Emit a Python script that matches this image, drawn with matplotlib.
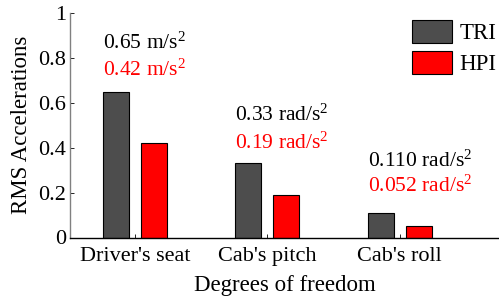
import matplotlib
matplotlib.use("Agg")
import matplotlib.pyplot as plt
import numpy as np

categories = ["Driver's seat", "Cab's pitch", "Cab's roll"]
tri = [0.65, 0.33, 0.11]
hpi = [0.42, 0.19, 0.052]
tri_labels = ["0.65 m/s$^2$", "0.33 rad/s$^2$", "0.110 rad/s$^2$"]
hpi_labels = ["0.42 m/s$^2$", "0.19 rad/s$^2$", "0.052 rad/s$^2$"]
series = ["TRI", "HPI"]

SERIF = 'Liberation Serif'
plt.rcParams['font.family'] = [SERIF, 'DejaVu Serif']
plt.rcParams['mathtext.fontset'] = 'custom'
plt.rcParams['mathtext.rm'] = SERIF
plt.rcParams['mathtext.it'] = SERIF + ':italic'

fig = plt.figure(figsize=(4.99, 2.98), dpi=100)
ax = fig.add_axes([70/499, 1-237.5/298, (499-70)/499, (237.5-13)/298])

x = np.arange(1, len(categories)+1)
w = 0.196
off = 0.143
ax.bar(x-off, tri, w, color='#4d4d4d', edgecolor='black', linewidth=0.8, label=series[0])
ax.bar(x+off, hpi, w, color='#ff0000', edgecolor='black', linewidth=0.8, label=series[1])

ax.set_xlim(0.51, 3.75)
ax.set_ylim(0, 1)
ax.set_yticks([0, 0.2, 0.4, 0.6, 0.8, 1])
ax.set_yticklabels(['0', '0.2', '0.4', '0.6', '0.8', '1'], family=SERIF)
ax.set_xticks(x)
ax.set_xticklabels(categories, family=SERIF)
ax.tick_params(axis='both', direction='in', labelsize=16, length=3, width=0.6, color='black')
ax.tick_params(axis='x', pad=7)
ax.tick_params(axis='y', pad=3)
for s in ['top', 'right']:
    ax.spines[s].set_visible(False)
ax.spines['left'].set_color('#808080')
ax.spines['left'].set_linewidth(1.0)
ax.spines['bottom'].set_color('black')
ax.spines['bottom'].set_linewidth(1.0)

ax.set_ylabel('RMS Accelerations', fontsize=16.5, labelpad=4, family=SERIF)
ax.set_xlabel('Degrees of freedom', fontsize=16.5, labelpad=6, family=SERIF)

tri_y = [0.866, 0.545, 0.34]
hpi_y = [0.746, 0.42, 0.23]
for i in range(len(categories)):
    ax.text(x[i]-off-w/2, tri_y[i], tri_labels[i], fontsize=15.5, color='black', va='center', ha='left', family=SERIF)
    ax.text(x[i]-off-w/2, hpi_y[i], hpi_labels[i], fontsize=15.5, color='#ff0000', va='center', ha='left', family=SERIF)

leg = ax.legend(loc='upper right', bbox_to_anchor=(1.015, 1.01), frameon=False,
                prop={'family': SERIF, 'size': 16.5},
                handlelength=1.75, handleheight=1.15, handletextpad=0.3, labelspacing=0.3,
                borderaxespad=0.0)

fig.savefig('out.png', dpi=100)
